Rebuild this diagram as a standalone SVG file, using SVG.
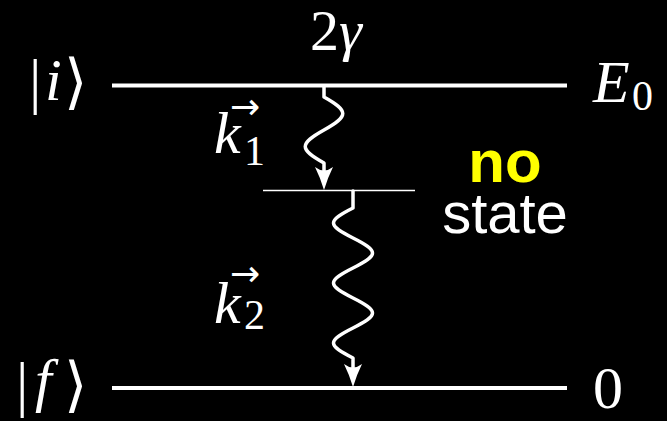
<svg xmlns="http://www.w3.org/2000/svg" width="667" height="421" viewBox="0 0 667 421">
<style>
.bg{fill:#000}
.lvl{stroke:#fff;stroke-width:4;fill:none}
.thin{stroke:#fff;stroke-width:1.3;fill:none}
.wave{stroke:#fff;stroke-width:3.5;fill:none;stroke-linecap:round;stroke-linejoin:round}
.head{fill:#fff;stroke:none}
.m{font-family:"Liberation Serif","DejaVu Serif",serif;fill:#fff;font-size:60px}
.it{font-style:italic}
.sub{font-size:42px}
.vec{font-family:"DejaVu Sans","Liberation Sans",sans-serif;font-size:36px;fill:#fff}
.no{font-family:"Liberation Sans",Arial,sans-serif;font-weight:bold;font-size:60px;fill:#ffff00}
.st{font-family:"Liberation Sans",Arial,sans-serif;font-size:58px;fill:#fff}
</style>
<rect class="bg" x="0" y="0" width="667" height="421"/>

<g id="level-i">
  <line class="lvl" x1="112" y1="85.5" x2="567" y2="85.5"/>
  <text class="m" x="29" y="102" style="font-size:62px">|</text>
  <text class="m it" x="45" y="100">i</text>
  <text class="m" x="64" y="102">⟩</text>
  <text class="m it" x="593" y="102">E</text>
  <text class="m sub" x="632" y="110">0</text>
  <text class="m" x="310" y="50" style="font-size:58px">2<tspan class="it">γ</tspan></text>
</g>

<g id="level-virtual">
  <line class="thin" x1="263" y1="190.5" x2="415" y2="190.5"/>
  <text class="no" x="505" y="182" text-anchor="middle">no</text>
  <text class="st" x="505" y="233" text-anchor="middle">state</text>
</g>

<g id="level-f">
  <line class="lvl" x1="112" y1="388" x2="567" y2="388"/>
  <text class="m" x="16" y="405" style="font-size:62px">|</text>
  <text class="m it" x="35" y="400">f</text>
  <text class="m" x="64" y="405">⟩</text>
  <text class="m" x="593" y="408">0</text>
</g>

<g id="labels">
  <text class="vec" x="230" y="119">→</text>
  <text class="m it" x="214" y="153">k</text>
  <text class="m sub" x="244" y="165">1</text>
  <text class="vec" x="230" y="286">→</text>
  <text class="m it" x="214" y="323">k</text>
  <text class="m sub" x="244" y="329">2</text>
</g>

<g id="connectors">
  <path class="wave" d="M324,87 V97 C349,111 349,116 324,130 C299,144 299,149 324,163 V178"/>
  <path class="head" d="M324,190 Q320,177 315,167 Q324,174 333,167 Q328,177 324,190 Z"/>
  <path class="wave" d="M353,191 V208 C327,221 327,225 353,238 C379,251 379,255 353,268 C327,281 327,285 353,298 C379,311 379,315 353,328 C327,341 327,345 353,358 V375"/>
  <path class="head" d="M353,387 Q349,374 344,364 Q353,371 362,364 Q357,374 353,387 Z"/>
</g>
</svg>
